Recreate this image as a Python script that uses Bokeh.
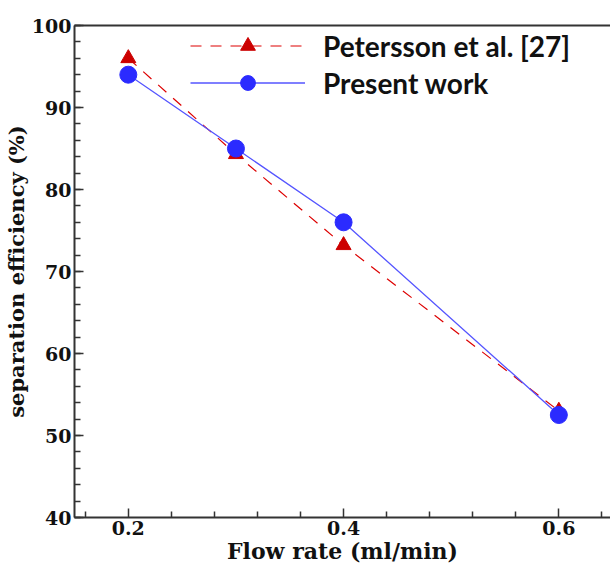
from bokeh.plotting import figure
from bokeh.models import FixedTicker, LinearAxis, Range1d
from bokeh.embed import file_html
from bokeh.resources import INLINE

flow_rate = [0.2, 0.3, 0.4, 0.6]
petersson = [96.0, 84.3, 73.2, 53.0]
present = [94.0, 85.0, 76.0, 52.5]

x_ticks = [0.2, 0.4, 0.6]
x_minor = [0.16, 0.24, 0.28, 0.32, 0.36, 0.44, 0.48, 0.52, 0.56, 0.64]
y_ticks = [40, 50, 60, 70, 80, 90, 100]
y_minor = list(range(40, 101, 2))

p = figure(width=610, height=566, output_backend="svg", toolbar_location=None,
           x_range=Range1d(0.15, 0.648), y_range=Range1d(40, 100),
           min_border_left=73, min_border_right=0, min_border_top=25, min_border_bottom=49)
p.outline_line_color = None
p.grid.visible = False
p.background_fill_color = "white"

p.line(flow_rate, petersson, line_color="#dd0000", line_width=1.2, line_dash="11 9",
       legend_label="Petersson et al. [27]")
p.scatter(flow_rate, petersson, marker="triangle", size=15, fill_color="#cc0000",
          line_color="#cc0000", legend_label="Petersson et al. [27]")
p.line(flow_rate, present, line_color="#5555ff", line_width=1.3, legend_label="Present work")
p.scatter(flow_rate, present, marker="circle", size=17, fill_color="#2b2bff",
          line_color="#2b2bff", legend_label="Present work")

for ax in (p.xaxis[0], p.yaxis[0]):
    ax.axis_line_width = 2
    ax.axis_line_color = "#333333"
    ax.major_tick_line_color = "#333333"
    ax.minor_tick_line_color = "#333333"
    ax.major_tick_line_width = 1.5
    ax.minor_tick_line_width = 1.5
    ax.major_tick_in = 9
    ax.major_tick_out = 0
    ax.minor_tick_in = 6
    ax.minor_tick_out = 0
    ax.major_label_text_font = "DejaVu Serif"
    ax.major_label_text_font_style = "bold"
    ax.major_label_text_font_size = "19px"
    ax.major_label_text_color = "#111111"
    ax.axis_label_text_font = "DejaVu Serif"
    ax.axis_label_text_font_style = "bold"
    ax.axis_label_text_color = "#111111"

p.xaxis[0].ticker = FixedTicker(ticks=x_ticks, minor_ticks=x_minor)
p.yaxis[0].ticker = FixedTicker(ticks=y_ticks, minor_ticks=y_minor)
p.xaxis[0].axis_label = "Flow rate (ml/min)"
p.yaxis[0].axis_label = "separation efficiency (%)"
p.xaxis[0].axis_label_text_font_size = "22px"
p.yaxis[0].axis_label_text_font_size = "21px"
p.xaxis[0].major_label_standoff = 3
p.yaxis[0].major_label_standoff = 3
p.xaxis[0].axis_label_standoff = 0
p.yaxis[0].axis_label_standoff = 0

top = LinearAxis(major_tick_line_color=None, minor_tick_line_color=None,
                 major_label_text_font_size="0px", axis_line_width=2,
                 axis_line_color="#333333")
top.ticker = FixedTicker(ticks=[])
p.add_layout(top, "above")

leg = p.legend[0]
leg.location = (116, 416)
leg.border_line_color = None
leg.background_fill_alpha = 0
leg.label_text_font = "Lato"
leg.label_text_font_style = "bold"
leg.label_text_font_size = "28px"
leg.label_text_color = "#111111"
leg.glyph_width = 115
leg.glyph_height = 37
leg.label_standoff = 18
leg.spacing = 0
leg.padding = 5
leg.margin = 0

open("out.html", "w").write(file_html(p, INLINE))
